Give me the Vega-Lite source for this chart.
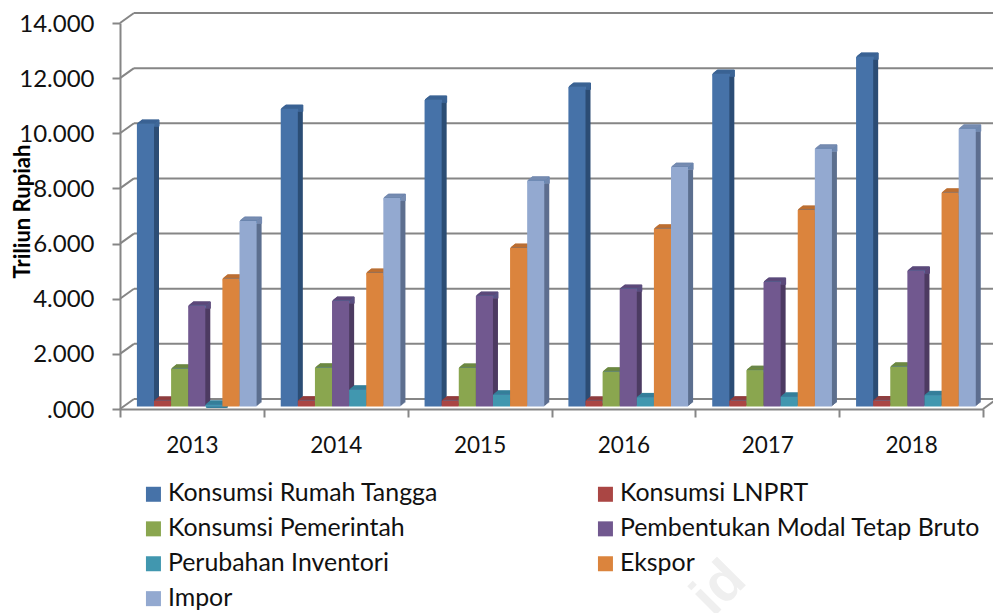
{"$schema":"https://vega.github.io/schema/vega-lite/v6.json","width":863,"height":386,"autosize":"none","padding":{"left":120,"top":23,"right":10,"bottom":204},"background":"white","config":{"view":{"stroke":null},"font":"Lato","axisY":{"grid":false}},
"datasets":{"bars":[
{"tahun":"2013","seri":"Konsumsi Rumah Tangga","nilai":10250},{"tahun":"2014","seri":"Konsumsi Rumah Tangga","nilai":10790},{"tahun":"2015","seri":"Konsumsi Rumah Tangga","nilai":11120},{"tahun":"2016","seri":"Konsumsi Rumah Tangga","nilai":11590},{"tahun":"2017","seri":"Konsumsi Rumah Tangga","nilai":12060},{"tahun":"2018","seri":"Konsumsi Rumah Tangga","nilai":12680},
{"tahun":"2013","seri":"Konsumsi LNPRT","nilai":205},{"tahun":"2014","seri":"Konsumsi LNPRT","nilai":210},{"tahun":"2015","seri":"Konsumsi LNPRT","nilai":210},{"tahun":"2016","seri":"Konsumsi LNPRT","nilai":205},{"tahun":"2017","seri":"Konsumsi LNPRT","nilai":210},{"tahun":"2018","seri":"Konsumsi LNPRT","nilai":215},
{"tahun":"2013","seri":"Konsumsi Pemerintah","nilai":1367},{"tahun":"2014","seri":"Konsumsi Pemerintah","nilai":1404},{"tahun":"2015","seri":"Konsumsi Pemerintah","nilai":1400},{"tahun":"2016","seri":"Konsumsi Pemerintah","nilai":1260},{"tahun":"2017","seri":"Konsumsi Pemerintah","nilai":1320},{"tahun":"2018","seri":"Konsumsi Pemerintah","nilai":1440},
{"tahun":"2013","seri":"Pembentukan Modal Tetap Bruto","nilai":3650},{"tahun":"2014","seri":"Pembentukan Modal Tetap Bruto","nilai":3830},{"tahun":"2015","seri":"Pembentukan Modal Tetap Bruto","nilai":4010},{"tahun":"2016","seri":"Pembentukan Modal Tetap Bruto","nilai":4265},{"tahun":"2017","seri":"Pembentukan Modal Tetap Bruto","nilai":4520},{"tahun":"2018","seri":"Pembentukan Modal Tetap Bruto","nilai":4920},
{"tahun":"2013","seri":"Perubahan Inventori","nilai":60},{"tahun":"2014","seri":"Perubahan Inventori","nilai":606},{"tahun":"2015","seri":"Perubahan Inventori","nilai":424},{"tahun":"2016","seri":"Perubahan Inventori","nilai":330},{"tahun":"2017","seri":"Perubahan Inventori","nilai":350},{"tahun":"2018","seri":"Perubahan Inventori","nilai":406},
{"tahun":"2013","seri":"Ekspor","nilai":4630},{"tahun":"2014","seri":"Ekspor","nilai":4845},{"tahun":"2015","seri":"Ekspor","nilai":5750},{"tahun":"2016","seri":"Ekspor","nilai":6445},{"tahun":"2017","seri":"Ekspor","nilai":7130},{"tahun":"2018","seri":"Ekspor","nilai":7750},
{"tahun":"2013","seri":"Impor","nilai":6730},{"tahun":"2014","seri":"Impor","nilai":7560},{"tahun":"2015","seri":"Impor","nilai":8185},{"tahun":"2016","seri":"Impor","nilai":8685},{"tahun":"2017","seri":"Impor","nilai":9345},{"tahun":"2018","seri":"Impor","nilai":10070}],
"frame":[
{"a":0,"b":0.0162,"y":0,"y2":363},{"a":0,"b":0.0162,"y":2000,"y2":2363},{"a":0,"b":0.0162,"y":4000,"y2":4363},{"a":0,"b":0.0162,"y":6000,"y2":6363},{"a":0,"b":0.0162,"y":8000,"y2":8363},{"a":0,"b":0.0162,"y":10000,"y2":10363},{"a":0,"b":0.0162,"y":12000,"y2":12363},{"a":0,"b":0.0162,"y":14000,"y2":14363},{"a":1,"b":1.0162,"y":0,"y2":363},
{"a":0.0162,"b":1.0162,"y":363,"y2":363},{"a":0.0162,"b":1.0162,"y":2363,"y2":2363},{"a":0.0162,"b":1.0162,"y":4363,"y2":4363},{"a":0.0162,"b":1.0162,"y":6363,"y2":6363},{"a":0.0162,"b":1.0162,"y":8363,"y2":8363},{"a":0.0162,"b":1.0162,"y":10363,"y2":10363},{"a":0.0162,"b":1.0162,"y":12363,"y2":12363},{"a":0.0162,"b":1.0162,"y":14363,"y2":14363}],
"mark":[{"a":0.694,"y":-6500,"teks":"id"}]},
"layer":[
{"data":{"name":"mark"},"mark":{"type":"text","angle":315,"font":"Liberation Sans","fontWeight":"bold","fontSize":56,"color":"#efefef"},"encoding":{"text":{"field":"teks"},"x":{"field":"a","type":"quantitative","scale":{"domain":[0,1]},"axis":null},"y":{"field":"y","type":"quantitative","scale":{"domain":[0,14000]},"axis":{"values":[0,2000,4000,6000,8000,10000,12000,14000],"labelExpr":"datum.value==0?'.000':replace(format(datum.value,','),',','.')","grid":false,"tickSize":8,"tickWidth":2,"tickColor":"#868686","domainColor":"#868686","domainWidth":2,"labelFont":"Lato","labelFontSize":24,"labelColor":"#111111","labelPadding":18,"labelOffset":1,"title":"Triliun Rupiah","titleFont":"Lato","titleFontSize":22,"titleFontWeight":"bold","titleColor":"#000000","titleX":-86,"titleY":188}}}},
{"data":{"name":"frame"},"mark":{"type":"rule","color":"#868686","strokeWidth":2},"encoding":{"x":{"field":"a","type":"quantitative","scale":{"domain":[0,1]},"axis":null},"x2":{"field":"b"},"y":{"field":"y","type":"quantitative"},"y2":{"field":"y2"}}},
{"layer":[
{"mark":{"type":"bar","yOffset":-6.5},"encoding":{"xOffset":{"field":"seri","type":"nominal","sort":null,"scale":{"domain":["Konsumsi Rumah Tangga","Konsumsi LNPRT","Konsumsi Pemerintah","Pembentukan Modal Tetap Bruto","Perubahan Inventori","Ekspor","Impor"],"range":[21.9,141.6],"paddingInner":0,"paddingOuter":0}},"fill":{"field":"seri","scale":{"domain":["Impor","Ekspor","Perubahan Inventori","Pembentukan Modal Tetap Bruto","Konsumsi Pemerintah","Konsumsi LNPRT","Konsumsi Rumah Tangga"],"range":["#5d6f8f","#b65708","#276a7c","#4d3b62","#5f7530","#772c2a","#2c4d75"]},"legend":null}}},
{"mark":{"type":"bar","yOffset":-6.5,"strokeWidth":1},"encoding":{"xOffset":{"field":"seri","type":"nominal","sort":null,"scale":{"domain":["Konsumsi Rumah Tangga","Konsumsi LNPRT","Konsumsi Pemerintah","Pembentukan Modal Tetap Bruto","Perubahan Inventori","Ekspor","Impor"],"range":[21.9,141.6],"paddingInner":0,"paddingOuter":0}},"y2":{"field":"nilai"},"stroke":{"field":"seri","scale":{"domain":["Konsumsi LNPRT","Konsumsi Rumah Tangga","Konsumsi Pemerintah","Pembentukan Modal Tetap Bruto","Perubahan Inventori","Ekspor","Impor"],"range":["#953a38","#3a6293","#6f8a3c","#5e4778","#33809a","#c56f2b","#7a8eb3"]},"legend":null}}},
{"mark":{"type":"bar","yOffset":-5.7},"encoding":{"xOffset":{"field":"seri","type":"nominal","sort":null,"scale":{"domain":["Konsumsi Rumah Tangga","Konsumsi LNPRT","Konsumsi Pemerintah","Pembentukan Modal Tetap Bruto","Perubahan Inventori","Ekspor","Impor"],"range":[20.9,140.6],"paddingInner":0,"paddingOuter":0}},"fill":{"field":"seri","legend":null}}},
{"mark":{"type":"bar","yOffset":-5.7,"strokeWidth":1},"encoding":{"xOffset":{"field":"seri","type":"nominal","sort":null,"scale":{"domain":["Konsumsi Rumah Tangga","Konsumsi LNPRT","Konsumsi Pemerintah","Pembentukan Modal Tetap Bruto","Perubahan Inventori","Ekspor","Impor"],"range":[20.9,140.6],"paddingInner":0,"paddingOuter":0}},"y2":{"field":"nilai"},"stroke":{"field":"seri","legend":null}}},
{"mark":{"type":"bar","yOffset":-4.9},"encoding":{"xOffset":{"field":"seri","type":"nominal","sort":null,"scale":{"domain":["Konsumsi Rumah Tangga","Konsumsi LNPRT","Konsumsi Pemerintah","Pembentukan Modal Tetap Bruto","Perubahan Inventori","Ekspor","Impor"],"range":[19.9,139.6],"paddingInner":0,"paddingOuter":0}},"fill":{"field":"seri","legend":null}}},
{"mark":{"type":"bar","yOffset":-4.9,"strokeWidth":1},"encoding":{"xOffset":{"field":"seri","type":"nominal","sort":null,"scale":{"domain":["Konsumsi Rumah Tangga","Konsumsi LNPRT","Konsumsi Pemerintah","Pembentukan Modal Tetap Bruto","Perubahan Inventori","Ekspor","Impor"],"range":[19.9,139.6],"paddingInner":0,"paddingOuter":0}},"y2":{"field":"nilai"},"stroke":{"field":"seri","legend":null}}},
{"mark":{"type":"bar","yOffset":-4.1},"encoding":{"xOffset":{"field":"seri","type":"nominal","sort":null,"scale":{"domain":["Konsumsi Rumah Tangga","Konsumsi LNPRT","Konsumsi Pemerintah","Pembentukan Modal Tetap Bruto","Perubahan Inventori","Ekspor","Impor"],"range":[18.9,138.6],"paddingInner":0,"paddingOuter":0}},"fill":{"field":"seri","legend":null}}},
{"mark":{"type":"bar","yOffset":-4.1,"strokeWidth":1},"encoding":{"xOffset":{"field":"seri","type":"nominal","sort":null,"scale":{"domain":["Konsumsi Rumah Tangga","Konsumsi LNPRT","Konsumsi Pemerintah","Pembentukan Modal Tetap Bruto","Perubahan Inventori","Ekspor","Impor"],"range":[18.9,138.6],"paddingInner":0,"paddingOuter":0}},"y2":{"field":"nilai"},"stroke":{"field":"seri","legend":null}}},
{"mark":{"type":"bar","yOffset":-3.3},"encoding":{"xOffset":{"field":"seri","type":"nominal","sort":null,"scale":{"domain":["Konsumsi Rumah Tangga","Konsumsi LNPRT","Konsumsi Pemerintah","Pembentukan Modal Tetap Bruto","Perubahan Inventori","Ekspor","Impor"],"range":[17.9,137.6],"paddingInner":0,"paddingOuter":0}},"fill":{"field":"seri","legend":null}}},
{"mark":{"type":"bar","yOffset":-3.3,"strokeWidth":1},"encoding":{"xOffset":{"field":"seri","type":"nominal","sort":null,"scale":{"domain":["Konsumsi Rumah Tangga","Konsumsi LNPRT","Konsumsi Pemerintah","Pembentukan Modal Tetap Bruto","Perubahan Inventori","Ekspor","Impor"],"range":[17.9,137.6],"paddingInner":0,"paddingOuter":0}},"y2":{"field":"nilai"},"stroke":{"field":"seri","legend":null}}},
{"mark":{"type":"bar","yOffset":-2.5},"encoding":{"xOffset":{"field":"seri","type":"nominal","sort":null,"scale":{"domain":["Konsumsi Rumah Tangga","Konsumsi LNPRT","Konsumsi Pemerintah","Pembentukan Modal Tetap Bruto","Perubahan Inventori","Ekspor","Impor"],"range":[16.9,136.6],"paddingInner":0,"paddingOuter":0}},"color":{"field":"seri","sort":null,"scale":{"domain":["Konsumsi Rumah Tangga","Konsumsi LNPRT","Konsumsi Pemerintah","Pembentukan Modal Tetap Bruto","Perubahan Inventori","Ekspor","Impor"],"range":["#4672a8","#aa4644","#8aa64f","#71588f","#4197af","#db843d","#93a9d0"]},"legend":{"title":null,"orient":"none","direction":"horizontal","legendX":21,"legendY":458.5,"columns":2,"columnPadding":154,"rowPadding":8.9,"symbolType":"square","symbolSize":225,"symbolStrokeWidth":0,"labelFont":"Lato","labelFontSize":24.9,"labelColor":"#111111","labelLimit":500,"labelOffset":2}}}}
],
"resolve":{"scale":{"xOffset":"independent"}},
"data":{"name":"bars"},
"encoding":{
"x":{"field":"tahun","type":"nominal","scale":{"type":"band","paddingInner":0,"paddingOuter":0},"axis":{"title":null,"labelAngle":0,"tickBand":"extent","tickSize":8,"tickWidth":2,"tickColor":"#868686","domainColor":"#868686","domainWidth":2,"labelFont":"Lato","labelFontSize":22.5,"labelColor":"#111111","labelPadding":17}},
"y":{"field":"nilai","type":"quantitative"}
}}
],
"resolve":{"scale":{"x":"independent","y":"shared"}}}
